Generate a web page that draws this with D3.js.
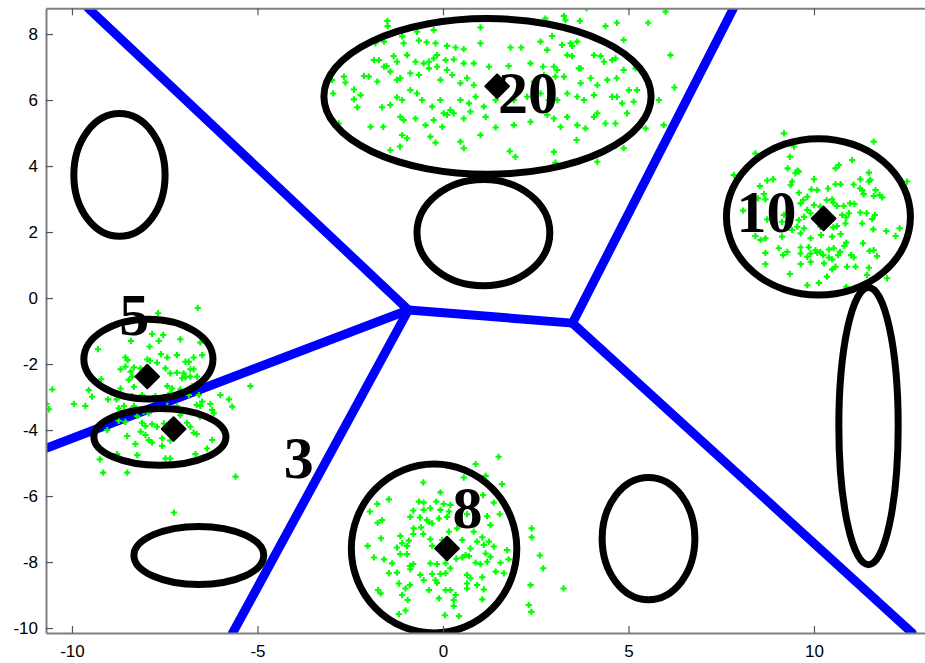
<!DOCTYPE html>
<html>
<head>
<meta charset="utf-8">
<script src="https://cdn.jsdelivr.net/npm/d3@7"></script>
<style>
  body { margin: 0; background: #fff; }
</style>
</head>
<body>
<div id="chart"></div>
<script>
// axis ticks
const xTicks = [-10, -5, 0, 5, 10];
const yTicks = [-10, -8, -6, -4, -2, 0, 2, 4, 6, 8];

// blue boundary segments [[x1,y1],[x2,y2]]
const boundaries = [
  [[-9.56, 8.78], [-0.93, -0.36]],
  [[-10.7, -4.55], [-0.93, -0.36]],
  [[-5.67, -10.15], [-0.93, -0.36]],
  [[-0.93, -0.36], [3.49, -0.76]],
  [[3.49, -0.76], [7.83, 8.78]],
  [[3.49, -0.76], [12.65, -10.15]]
];

// black ellipses [cx, cy, rx, ry]
const ellipses = [
  [1.20, 6.11, 4.41, 2.36],
  [10.12, 2.46, 2.48, 2.37],
  [-0.24, -7.59, 2.23, 2.56],
  [-7.94, -1.85, 1.74, 1.21],
  [-7.63, -4.21, 1.78, 0.86],
  [-8.72, 3.73, 1.23, 1.86],
  [1.09, 1.98, 1.79, 1.61],
  [11.47, -3.88, 0.80, 4.20],
  [-6.58, -7.80, 1.75, 0.88],
  [5.54, -7.29, 1.25, 1.85]
];

// cluster centres (black diamonds)
const centres = [
  [1.46, 6.42], [10.26, 2.41], [-7.97, -2.38], [-7.26, -3.97], [0.11, -7.59]
];

// numeric annotations
const labelText = ["20", "10", "5", "3", "8"];
const labelPos = [[2.29, 5.61], [8.72, 2.01], [-8.32, -1.12], [-3.89, -5.45], [0.66, -6.98]];

// green sample points, one list per cluster
const pts20 = [
  [-1.50,8.40],[-1.49,8.24],[-0.70,8.07],[-0.25,8.12],[1.01,8.20],[2.76,8.47],[3.26,8.55],[3.30,8.42],[3.69,8.40],[3.87,8.78],
  [4.38,8.24],[4.69,8.34],[5.53,8.34],[6.00,8.68],
  [-1.82,7.72],[-1.59,7.77],[-1.10,7.93],[-1.06,7.72],[-0.65,7.80],[-0.44,7.75],[-0.20,7.72],[0.11,7.64],[0.34,7.59],[0.56,7.54],
  [1.01,7.72],[1.82,7.59],[2.11,7.59],[2.63,7.77],[2.81,7.52],[2.94,7.94],[3.21,7.67],[3.44,7.72],[3.48,7.64],[3.62,7.77],
  [4.87,7.82],[6.13,7.36],
  [-1.86,7.21],[-1.73,7.21],[-1.33,7.33],[-1.24,7.16],[-0.97,7.36],[-0.74,7.16],[-0.52,7.11],[-0.38,7.16],[-0.25,7.26],[-0.16,7.36],
  [0.07,7.21],[0.29,7.23],[0.56,7.11],[0.83,7.11],[1.24,7.01],[1.77,7.03],[2.36,7.11],[2.70,7.01],[2.99,7.01],[3.08,6.91],
  [3.35,7.36],[3.48,7.33],[3.71,6.96],[4.07,7.36],[4.25,7.33],[4.34,7.16],[4.56,7.21],[4.65,7.26],[4.87,6.91],[5.19,6.96],
  [-2.67,6.71],[-2.13,6.73],[-2.00,6.71],[-1.77,6.56],[-1.59,7.01],[-1.52,7.03],[-1.42,6.86],[-1.24,6.61],[-1.15,6.66],[-0.88,6.81],
  [-0.65,6.76],[-0.38,6.96],[-0.16,7.01],[-0.07,6.61],[0.11,6.91],[0.25,6.76],[0.47,6.51],[0.65,6.66],[0.83,6.45],[2.45,6.56],
  [2.72,6.76],[3.03,6.71],[3.26,6.71],[3.66,6.96],[3.71,6.51],[3.98,6.66],[4.16,6.45],[4.43,6.61],[4.68,6.66],[5.01,6.30],
  [5.23,6.30],[6.24,6.38],
  [-2.99,6.61],[-2.63,6.53],[-2.40,6.32],[-2.22,6.15],[-2.96,6.20],[-2.40,6.02],[-2.31,5.78],[-1.64,5.78],[-1.42,5.85],[-1.24,6.08],
  [-1.10,6.00],[-0.88,6.30],[-0.70,6.20],[-0.56,6.00],[-0.29,5.80],[-0.07,6.00],[0.02,5.60],[0.20,5.70],[0.47,6.00],[0.70,5.90],
  [0.88,6.10],[1.10,5.80],[1.42,6.00],[1.91,6.00],[2.27,6.10],[2.63,6.20],[2.85,6.00],[3.08,6.00],[3.35,6.20],[3.62,6.10],
  [3.80,6.00],[4.07,6.15],[4.56,6.10],[4.69,6.10],[4.83,5.90],[5.14,5.95],[5.82,6.00],
  [-2.81,5.29],[-1.95,5.19],[-1.61,5.19],[-1.15,5.49],[-1.06,5.39],[-0.74,5.44],[-0.47,5.24],[-0.25,5.39],[-0.02,5.19],[0.11,5.55],
  [0.29,5.60],[0.56,5.44],[0.74,5.65],[1.15,5.49],[1.42,5.17],[1.91,5.24],[2.36,5.34],[2.81,5.55],[2.99,5.44],[3.17,5.19],
  [3.35,5.49],[3.62,5.24],[3.84,5.14],[4.07,5.49],[4.16,5.60],[4.38,5.29],[4.65,5.29],[4.96,5.60],[5.46,5.14],[5.95,5.24],
  [-1.42,4.48],[-1.16,4.59],[-1.10,4.94],[-0.97,4.84],[-0.34,4.89],[-0.20,4.71],[0.47,4.74],[0.56,4.54],[1.01,4.94],[1.80,4.45],
  [1.95,4.28],[2.99,4.43],[3.03,4.10],[3.60,4.79],[4.16,4.13],[4.87,4.54]
];

const pts10 = [
  [9.19,4.99],[11.61,4.74],[9.46,4.59],[7.84,3.73],[8.42,4.38],[9.35,4.28],[11.03,4.18],[10.58,3.93],[10.67,4.03],[9.29,3.93],
  [9.55,3.86],[9.50,3.78],[9.59,3.83],[11.48,3.80],[12.51,3.53],[11.25,3.60],[11.52,3.58],[11.48,3.53],[9.41,3.53],[9.37,3.42],
  [8.74,3.56],[8.90,3.60],[8.54,3.39],[10.00,3.60],[10.38,3.32],[10.58,3.45],[10.72,3.45],[11.07,3.44],[11.24,3.32],[11.30,3.27],
  [11.66,3.27],[11.77,3.12],[11.84,3.05],[11.61,3.09],[11.34,3.15],[10.09,3.27],[9.93,3.29],[9.59,3.19],[9.82,3.07],[9.71,2.97],
  [9.64,2.87],[8.65,3.15],[8.49,3.02],[8.69,2.99],[10.00,2.82],[10.17,2.77],[10.34,2.97],[10.49,2.99],[10.52,2.89],[10.62,2.79],
  [10.80,2.79],[10.97,2.87],[11.09,2.85],[11.25,2.59],[11.42,2.57],[11.64,2.52],[11.57,2.39],[10.94,2.57],[10.87,2.44],[10.76,2.52],
  [9.82,2.67],[9.91,2.57],[9.73,2.46],[9.59,2.36],[8.09,2.65],[8.74,2.38],[9.19,2.52],[9.14,2.31],[9.32,2.62],[9.55,2.16],
  [9.73,2.11],[10.17,2.16],[10.52,2.14],[10.62,2.18],[10.85,2.26],[11.30,2.26],[11.60,2.08],[11.95,2.03],[12.31,2.11],[12.20,1.88],
  [9.14,1.86],[9.41,2.06],[9.64,1.96],[9.91,1.81],[10.19,1.91],[10.49,1.86],[10.72,1.94],[8.42,1.88],[8.56,1.76],[8.69,1.81],
  [9.05,1.51],[9.64,1.53],[9.86,1.54],[10.04,1.45],[10.17,1.40],[10.40,1.47],[10.53,1.51],[10.70,1.40],[10.87,1.68],[10.82,1.58],
  [11.32,1.66],[11.50,1.43],[11.61,1.45],[11.70,1.27],[8.69,1.37],[9.17,1.30],[9.28,1.40],[9.64,1.35],[9.82,1.25],[9.91,1.35],
  [10.09,1.37],[10.25,1.30],[10.40,1.23],[10.49,1.17],[10.65,1.30],[11.00,1.30],[11.07,1.23],[8.69,1.03],[9.64,1.03],[9.91,1.10],
  [10.27,1.05],[10.58,0.95],[10.49,0.87],[10.89,0.95],[11.12,0.95],[11.48,0.92],[9.35,0.73],[10.35,0.65],[11.43,0.70],[11.97,0.60],
  [9.82,0.39],[10.13,0.46],[10.87,0.34]
];

const pts5 = [
  [-6.61,-0.30],[-7.68,-0.46],[-7.84,-1.09],[-7.54,-1.12],[-7.08,-1.25],[-7.66,-1.30],[-8.41,-1.30],[-9.30,-1.55],[-6.54,-1.35],[-7.91,-1.47],
  [-7.60,-1.70],[-8.56,-1.80],[-8.50,-1.88],[-7.43,-1.80],[-7.97,-1.86],[-7.90,-1.90],[-7.71,-1.96],[-7.17,-1.73],[-6.94,-1.93],[-6.85,-1.93],
  [-6.72,-1.80],[-6.49,-1.73],[-8.56,-2.08],[-8.69,-2.16],[-8.42,-2.23],[-8.33,-2.10],[-8.15,-2.13],[-7.48,-2.13],[-7.35,-2.28],[-7.17,-2.26],
  [-6.99,-2.28],[-6.81,-2.16],[-6.72,-2.16],[-7.03,-2.43],[-6.94,-2.40],[-6.81,-2.38],[-6.63,-2.38],[-9.21,-2.46],[-8.38,-2.38],[-8.47,-2.48],
  [-8.33,-2.69],[-8.69,-2.74],[-7.43,-2.67],[-7.30,-2.74],[-7.08,-2.77],[-6.76,-2.67],[-6.63,-2.61],[-5.19,-2.67],[-10.53,-2.77],[-9.55,-2.79],
  [-9.46,-2.99],[-9.03,-3.07],[-8.80,-3.07],[-8.38,-2.97],[-8.11,-2.94],[-7.75,-2.97],[-7.54,-3.01],[-7.35,-2.89],[-6.85,-2.94],[-6.58,-2.94],
  [-6.49,-3.14],[-6.27,-3.21],[-6.00,-2.94],[-5.77,-3.07],[-10.69,-3.21],[-10.62,-3.37],[-9.95,-3.21],[-9.64,-3.27],[-8.74,-3.34],[-8.60,-3.27],
  [-8.42,-3.39],[-8.33,-3.27],[-8.07,-3.44],[-7.93,-3.49],[-7.57,-3.34],[-7.43,-3.27],[-7.17,-3.27],[-6.64,-3.24],[-6.54,-3.27],[-5.68,-3.29],
  [-8.74,-3.72],[-8.56,-3.75],[-8.24,-3.58],[-8.11,-3.78],[-8.02,-3.88],[-7.84,-3.82],[-7.71,-3.90],[-7.52,-3.80],[-7.08,-3.55],[-6.90,-3.78],
  [-6.81,-3.90],[-6.55,-3.60],[-6.22,-3.39],[-6.18,-3.49],[-9.05,-4.00],[-8.51,-4.18],[-8.15,-4.05],[-8.02,-4.15],[-7.93,-4.30],[-7.84,-4.38],
  [-7.57,-4.25],[-7.35,-4.32],[-6.72,-4.08],[-6.64,-4.12],[-6.22,-4.30],[-9.25,-4.89],[-8.78,-4.73],[-8.29,-4.42],[-8.24,-4.76],[-7.57,-4.48],
  [-7.48,-4.86],[-7.35,-4.86],[-6.67,-4.73],[-6.36,-4.56],[-9.16,-5.29],[-8.51,-5.29],[-5.59,-5.41],[-7.25,-6.50]
];

const pts8 = [
  [1.50,-4.81],[0.88,-5.03],[1.15,-5.39],[-0.53,-5.59],[0.56,-5.44],[-0.07,-5.89],[1.59,-5.64],[1.08,-5.97],[1.37,-6.20],[-1.46,-6.10],
  [-1.77,-6.24],[-1.97,-6.47],[-0.65,-6.17],[-0.52,-6.20],[-0.18,-6.17],[0.02,-6.24],[0.20,-6.27],[-0.80,-6.44],[-0.52,-6.42],[-0.34,-6.37],
  [-0.07,-6.42],[0.16,-6.47],[-0.88,-6.63],[-0.62,-6.65],[-0.43,-6.73],[-0.38,-6.78],[-0.29,-6.83],[-0.11,-6.68],[0.11,-6.63],[0.65,-6.55],
  [0.92,-6.61],[1.19,-6.61],[1.28,-6.88],[1.53,-6.55],[-1.64,-6.73],[-1.76,-6.81],[-0.79,-6.98],[-0.59,-6.95],[-0.80,-7.15],[-0.53,-7.15],
  [-0.34,-7.31],[-0.02,-7.33],[0.16,-7.08],[0.38,-6.98],[0.83,-7.08],[1.06,-7.25],[1.24,-7.38],[1.37,-7.53],[-1.67,-7.28],[-1.15,-7.21],
  [-1.10,-7.43],[-1.24,-7.56],[-0.97,-7.51],[-0.92,-7.35],[-2.03,-7.51],[-0.29,-7.51],[-0.07,-7.64],[0.52,-7.33],[0.74,-7.59],[0.61,-7.79],
  [0.92,-7.38],[1.10,-7.48],[1.15,-7.74],[1.73,-7.64],[2.39,-6.98],[2.39,-7.25],[2.61,-7.80],[-1.86,-7.86],[-1.59,-7.92],[-1.37,-8.04],
  [-1.15,-7.76],[-0.97,-7.76],[-0.80,-8.06],[-0.34,-8.04],[-0.16,-8.06],[0.07,-8.04],[0.36,-7.90],[0.52,-7.86],[0.70,-7.82],[0.88,-8.02],
  [1.01,-8.06],[1.19,-7.99],[1.28,-7.84],[1.55,-8.02],[1.77,-7.92],[2.70,-8.19],[-1.46,-8.34],[-1.24,-8.32],[-0.89,-8.12],[-0.88,-8.22],
  [-0.61,-8.39],[-0.29,-8.36],[-0.20,-8.55],[-0.07,-8.36],[0.07,-8.34],[0.20,-8.19],[0.65,-8.39],[0.74,-8.49],[1.06,-8.46],[1.42,-8.29],
  [1.64,-8.34],[-1.75,-8.85],[-1.68,-8.95],[-1.19,-8.65],[-1.01,-8.80],[-0.89,-8.70],[-0.52,-8.55],[-0.38,-8.85],[-0.16,-8.63],[0.07,-8.85],
  [0.20,-8.85],[0.34,-9.00],[0.65,-8.65],[0.65,-8.80],[0.92,-8.70],[1.10,-8.83],[2.36,-8.70],[-1.10,-9.00],[-0.95,-9.15],[-0.11,-9.10],
  [0.29,-9.15],[0.29,-9.33],[1.06,-9.13],[2.31,-9.30],[2.38,-9.51],[-1.19,-9.58],[-1.01,-9.47],[0.05,-9.61],[0.43,-9.64],[3.25,-8.80]
];

const width = 925, height = 663;

const svg = d3.select("#chart")
  .append("svg")
  .attr("width", width)
  .attr("height", height)
  .style("display", "block");

// axis limits; the right end runs past the window like the original
const x = d3.scaleLinear().domain([-10.7, 13.2]).range([46, 932.7]);
const y = d3.scaleLinear().domain([-10.15, 8.78]).range([633, 8.3]);

svg.append("clipPath").attr("id", "plotclip")
  .append("rect")
  .attr("x", x.range()[0]).attr("y", y.range()[1])
  .attr("width", x.range()[1] - x.range()[0])
  .attr("height", y.range()[0] - y.range()[1]);

const plot = svg.append("g").attr("clip-path", "url(#plotclip)");

// boundaries
plot.selectAll("line.bnd")
  .data(boundaries)
  .enter()
  .append("line")
  .attr("class", "bnd")
  .attr("x1", d => x(d[0][0])).attr("y1", d => y(d[0][1]))
  .attr("x2", d => x(d[1][0])).attr("y2", d => y(d[1][1]))
  .attr("stroke", "#0000ff")
  .attr("stroke-width", 9)
  .attr("stroke-linecap", "round");

// green samples
const allPts = [].concat(pts20, pts10, pts5, pts8);
const cross = d3.symbol().type(d3.symbolCross).size(22);
plot.selectAll("path.pt")
  .data(allPts)
  .enter()
  .append("path")
  .attr("class", "pt")
  .attr("d", cross)
  .attr("transform", d => "translate(" + x(d[0]) + "," + y(d[1]) + ")")
  .attr("fill", "#00ff00");

// ellipses
plot.selectAll("ellipse")
  .data(ellipses)
  .enter()
  .append("ellipse")
  .attr("cx", d => x(d[0]))
  .attr("cy", d => y(d[1]))
  .attr("rx", d => x(d[0] + d[2]) - x(d[0]))
  .attr("ry", d => y(d[1]) - y(d[1] + d[3]))
  .attr("fill", "none")
  .attr("stroke", "#000")
  .attr("stroke-width", 7);

// centre markers
const sq = d3.symbol().type(d3.symbolSquare).size(280);
plot.selectAll("path.ctr")
  .data(centres)
  .enter()
  .append("path")
  .attr("class", "ctr")
  .attr("d", sq)
  .attr("transform", d => "translate(" + x(d[0]) + "," + y(d[1]) + ") rotate(45)")
  .attr("fill", "#000")
  .attr("stroke", "#000")
  .attr("stroke-width", 2)
  .attr("stroke-linejoin", "round");

// annotations
plot.selectAll("text.lbl")
  .data(labelText)
  .enter()
  .append("text")
  .attr("class", "lbl")
  .attr("x", (d, i) => x(labelPos[i][0]))
  .attr("y", (d, i) => y(labelPos[i][1]))
  .attr("text-anchor", "middle")
  .attr("font-family", "'Liberation Serif', 'DejaVu Serif', serif")
  .attr("font-weight", "bold")
  .attr("font-size", "60px")
  .attr("fill", "#000")
  .text(d => d);

// axes
const fmt = d => String(d);
const gx = svg.append("g")
  .attr("transform", "translate(0," + y.range()[0] + ")")
  .call(d3.axisBottom(x).tickValues(xTicks).tickFormat(fmt).tickSize(-7).tickSizeOuter(0).tickPadding(12));
const gxTop = svg.append("g")
  .attr("transform", "translate(0," + y.range()[1] + ")")
  .call(d3.axisTop(x).tickValues(xTicks).tickFormat("").tickSize(-7).tickSizeOuter(0));
const gy = svg.append("g")
  .attr("transform", "translate(" + x.range()[0] + ",0)")
  .call(d3.axisLeft(y).tickValues(yTicks).tickFormat(fmt).tickSize(-7).tickSizeOuter(0).tickPadding(8));

[gx, gxTop, gy].forEach(g => {
  g.select(".domain").attr("stroke", "#7f7f7f").attr("stroke-width", 2);
  g.selectAll(".tick line").attr("stroke", "#555").attr("stroke-width", 1.2);
  g.selectAll(".tick text")
    .attr("fill", "#000")
    .attr("font-family", "'Liberation Sans', Arial, sans-serif")
    .attr("font-size", "17px");
});
</script>
</body>
</html>
